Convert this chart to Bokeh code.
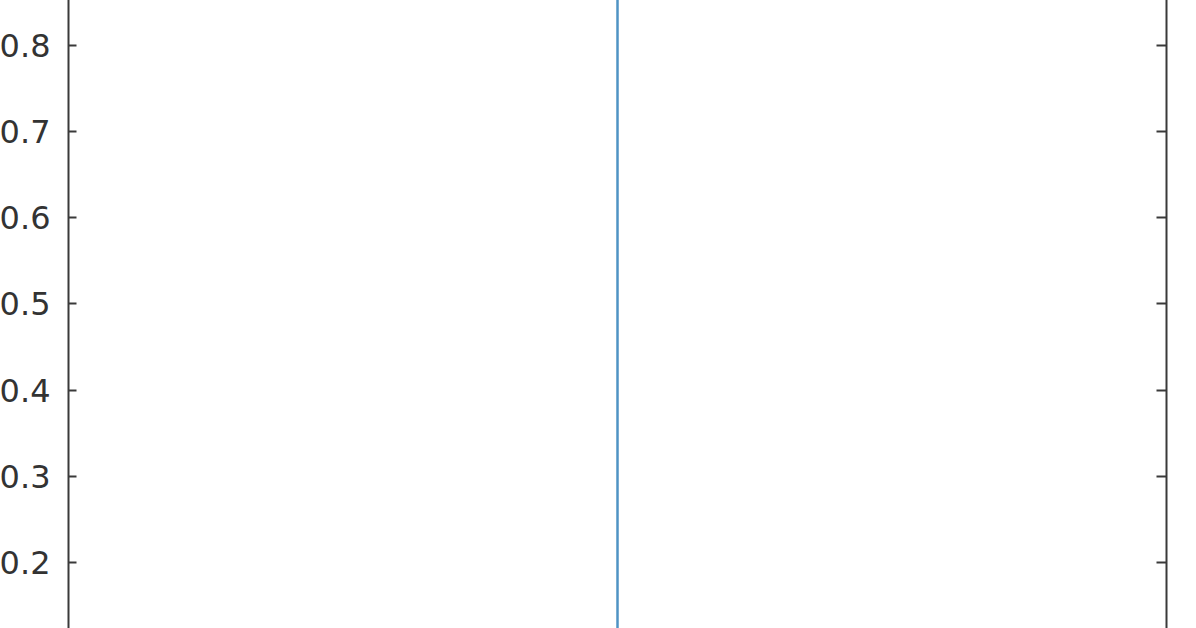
from bokeh.plotting import figure
from bokeh.models import Range1d, FixedTicker, LinearAxis, Span
from bokeh.embed import file_html
from bokeh.resources import INLINE

# data
y_ticks = [0.2, 0.3, 0.4, 0.5, 0.6, 0.7, 0.8]
vline_x = [0.0]
x_limits = [-1.0, 1.0]
y_limits = [0.1234, 0.8615]

p = figure(width=1204, height=636, output_backend="svg", toolbar_location=None,
           x_range=Range1d(*x_limits), y_range=Range1d(*y_limits),
           min_border_left=76, min_border_right=30, min_border_top=0, min_border_bottom=0,
           x_axis_location=None, y_axis_location=None)
p.styles = {"margin-top": "-8px", "margin-left": "-8px"}
p.outline_line_color = None
p.background_fill_color = "white"
p.border_fill_color = "white"
p.xgrid.visible = False
p.ygrid.visible = False

left = LinearAxis(ticker=FixedTicker(ticks=y_ticks))
left.axis_line_color = "#3a3a3a"
left.axis_line_width = 2
left.major_tick_line_color = "#3a3a3a"
left.major_tick_line_width = 2
left.major_tick_in = 8
left.major_tick_out = 0
left.minor_tick_line_color = None
left.major_label_text_font = "DejaVu Sans"
left.major_label_text_font_size = "32px"
left.major_label_text_color = "#333333"
left.major_label_standoff = 18
p.add_layout(left, "left")

right = LinearAxis(ticker=FixedTicker(ticks=y_ticks))
right.axis_line_color = "#3a3a3a"
right.axis_line_width = 2
right.major_tick_line_color = "#3a3a3a"
right.major_tick_line_width = 2
right.major_tick_in = 10
right.major_tick_out = 0
right.minor_tick_line_color = None
right.major_label_text_font_size = "0px"
right.major_label_text_color = None
p.add_layout(right, "right")

for xv in vline_x:
    p.add_layout(Span(location=xv, dimension="height", line_color="#4f93c4", line_width=2.5))

open("out.html", "w").write(file_html(p, INLINE))
